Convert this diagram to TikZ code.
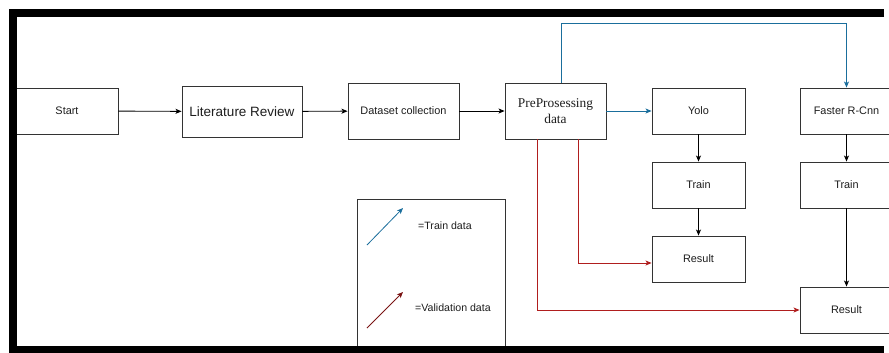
\documentclass[tikz,border=0pt]{standalone}
\usepackage{fontspec}
\setmainfont{Liberation Sans}
\newfontfamily\serifb{Liberation Serif}
\usetikzlibrary{arrows.meta}
\definecolor{tblue}{HTML}{1A6E9C}
\definecolor{vred}{HTML}{B01E1E}
\definecolor{lred}{HTML}{7A1414}
\definecolor{boxc}{HTML}{333333}
\definecolor{txt}{HTML}{1E1E1E}
\begin{document}
\begin{tikzpicture}[x=1bp,y=-1bp,
  box/.style={draw=boxc,line width=0.9bp,fill=white,rectangle,inner sep=0pt,text=txt,
    font=\fontsize{10.9bp}{13bp}\selectfont},
  conn/.style={line width=0.9bp,-{Stealth[length=6bp,width=5bp,inset=1.5bp]}},
  lbl/.style={text=txt,font=\fontsize{10.6bp}{13bp}\selectfont,anchor=west,inner sep=0pt}]
\path[use as bounding box,fill=white] (0,0) rectangle (889,352);
\begin{scope}
\clip (0,0) rectangle (889,352);
% nodes
\node[box,minimum width=102bp,minimum height=46bp] (start) at (67,111) {Start};
\node[box,minimum width=120bp,minimum height=51bp,font=\fontsize{13.5bp}{16bp}\selectfont] (lit) at (242,111.5) {Literature Review};
\node[box,minimum width=111bp,minimum height=56bp] (data) at (403.5,111) {Dataset collection};
\node[box,minimum width=101bp,minimum height=56bp,align=center,font=\serifb\fontsize{13.4bp}{16bp}\selectfont] (prep) at (555.5,111) {PreProsessing\\data};
\node[box,minimum width=93bp,minimum height=46bp] (yolo) at (698.5,111) {Yolo};
\node[box,minimum width=93bp,minimum height=46bp] (frcnn) at (846.5,111) {Faster R-Cnn};
\node[box,minimum width=93bp,minimum height=46bp] (train1) at (698.5,185) {Train};
\node[box,minimum width=93bp,minimum height=46bp] (train2) at (846.5,185) {Train};
\node[box,minimum width=93bp,minimum height=46bp] (res1) at (698.5,259) {Result};
\node[box,minimum width=93bp,minimum height=46bp] (res2) at (846.5,310) {Result};
% legend
\node[box,minimum width=148bp,minimum height=151bp] (legend) at (431,274.5) {};
\coordinate (lb1) at (367,245);
\coordinate (lb2) at (403,208);
\coordinate (lr1) at (367,328);
\coordinate (lr2) at (403,292);
\draw[conn,tblue,line width=0.8bp] (lb1) -- (lb2);
\draw[conn,lred,line width=0.8bp] (lr1) -- (lr2);
\node[lbl] (ltrain) at (418,226) {=Train data};
\node[lbl] (lval) at (415,308) {=Validation data};
% black connectors
\draw[conn] (start) -- (lit);
\draw[conn] (lit) -- (data);
\draw[conn] (data) -- (prep);
\draw[conn] (yolo) -- (train1);
\draw[conn] (train1) -- (res1);
\draw[conn] (frcnn) -- (train2);
\draw[conn] (train2) -- (res2);
% blue
\draw[conn,tblue] (prep) -- (yolo);
\coordinate (btop) at (846.5,23);
\draw[conn,tblue] ([xshift=5.5bp]prep.north) |- (btop) -- (frcnn.north);
% red
\draw[conn,vred] ([xshift=22.5bp]prep.south) |- ([yshift=-4bp]res1.west);
\draw[conn,vred] ([xshift=-18.5bp]prep.south) |- (res2.west);
% frame (open on the right)
\draw[line width=8bp] (884,13) -- (12.5,13) -- (12.5,350) -- (884,350);
\end{scope}
\end{tikzpicture}
\end{document}
